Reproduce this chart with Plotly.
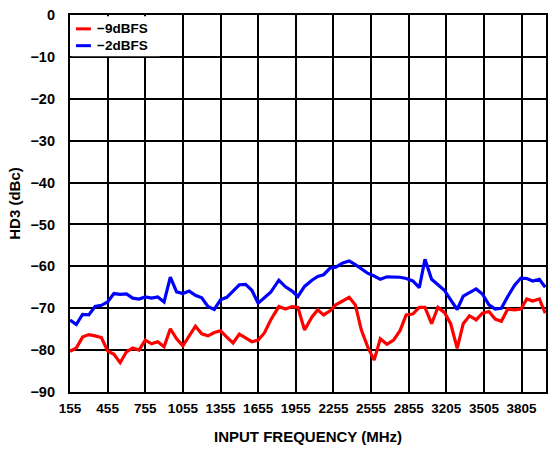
import plotly.graph_objects as go

# ---- data ----
freq_mhz = [155, 205, 255, 305, 355, 405, 455, 505, 555, 605, 655, 705, 755, 805, 855, 905,
            955, 1005, 1055, 1105, 1155, 1205, 1255, 1305, 1355, 1405, 1455, 1505, 1555, 1605,
            1655, 1705, 1755, 1820, 1873, 1926, 1972, 2025, 2084, 2130, 2177, 2229, 2274, 2330,
            2381, 2430, 2478, 2531, 2580, 2629, 2682, 2735, 2787, 2835, 2888, 2940, 2985, 3038,
            3088, 3140, 3190, 3242, 3290, 3340, 3393, 3443, 3495, 3545, 3594, 3645, 3700, 3750,
            3797, 3844, 3897, 3944]

hd3_m9dbfs = [-80.3, -79.5, -76.9, -76.3, -76.6, -77.0, -80.2, -81.0, -83.0, -80.4, -79.5, -80.0,
              -77.6, -78.5, -78.0, -79.2, -74.9, -77.3, -79.0, -76.6, -74.3, -76.1, -76.6, -75.8,
              -75.4, -76.9, -78.3, -76.2, -77.1, -78.0, -77.6, -75.9, -72.8, -69.6, -70.2, -69.6,
              -69.8, -75.2, -72.1, -70.4, -71.6, -70.6, -69.2, -68.2, -67.4, -69.2, -75.2, -79.4,
              -82.4, -77.3, -78.6, -77.6, -75.3, -71.6, -71.4, -69.8, -69.8, -73.7, -69.8, -71.0,
              -73.7, -79.6, -73.7, -71.8, -72.8, -71.2, -70.8, -72.6, -73.1, -70.2, -70.4, -70.2,
              -67.8, -68.3, -67.8, -71.2]

hd3_m2dbfs = [-72.8, -73.9, -71.5, -71.6, -69.6, -69.3, -68.5, -66.5, -66.7, -66.6, -67.6, -67.8,
              -67.3, -67.6, -67.3, -68.5, -62.6, -66.1, -66.5, -65.9, -66.9, -67.5, -69.6, -70.3,
              -68.0, -67.4, -65.9, -64.4, -64.3, -65.7, -68.8, -67.5, -66.2, -63.3, -64.9, -65.9,
              -67.2, -64.8, -63.3, -62.4, -62.0, -60.4, -60.2, -59.2, -58.7, -59.6, -60.6, -61.7,
              -62.3, -63.1, -62.5, -62.5, -62.6, -62.9, -63.5, -65.1, -58.3, -63.1, -64.5, -65.7,
              -68.0, -70.3, -67.1, -66.3, -65.4, -66.6, -69.2, -70.2, -70.0, -67.2, -64.5, -62.8,
              -62.9, -63.5, -63.1, -65.0]

series_names = ["\u22129dBFS", "\u22122dBFS"]
series_colors = ["#ff0000", "#0000ff"]

x_tickvals = [155 + 300 * k for k in range(13)]
x_ticktext = ["155", "455", "755", "1055", "1355", "1655", "1955", "2255", "2555", "2855",
              "3205", "3505", "3805"]
y_tickvals = [0, -10, -20, -30, -40, -50, -60, -70, -80, -90]

FONT = "Liberation Sans, Arial, sans-serif"

fig = go.Figure()
for name, ys, col in zip(series_names, [hd3_m9dbfs, hd3_m2dbfs], series_colors):
    fig.add_trace(go.Scatter(x=freq_mhz, y=ys, mode="lines", name=name,
                             line=dict(color=col, width=3.2), showlegend=False))

fig.update_layout(
    width=554, height=449,
    margin=dict(l=70, r=6, t=15, b=53),
    paper_bgcolor="white", plot_bgcolor="white",
    font=dict(family=FONT, size=13, color="black", weight="bold"),
)

fig.update_xaxes(
    range=[155, 3950], tickvals=x_tickvals, ticktext=x_ticktext,
    showgrid=True, gridcolor="black", gridwidth=1.6,
    showline=True, linecolor="black", linewidth=2.2, mirror=True,
    ticks="", ticklabelstandoff=3,
    tickfont=dict(family=FONT, size=13.5, weight="bold"),
    title=dict(text="INPUT FREQUENCY (MHz)", standoff=16,
               font=dict(family=FONT, size=15, weight="bold")),
    zeroline=False,
)
fig.update_yaxes(
    range=[-90, 0], tickvals=y_tickvals,
    showgrid=True, gridcolor="black", gridwidth=1.6,
    showline=True, linecolor="black", linewidth=2.2, mirror=True,
    ticks="", ticklabelstandoff=10,
    tickfont=dict(family=FONT, size=14.5, weight="bold"),
    title=dict(text="HD3 (dBc)", standoff=6,
               font=dict(family=FONT, size=15, weight="bold")),
    zeroline=False,
)

# legend box (drawn in paper coordinates of the plot area)
pw, ph = 478.0, 381.0
def px(xp):
    return (xp - 70) / pw
def py(yp):
    return 1 - (yp - 15) / ph

fig.add_shape(type="rect", xref="paper", yref="paper",
              x0=px(71.3), x1=px(160), y0=py(56.6), y1=py(16.3),
              fillcolor="white", line=dict(width=0), layer="above")
for i, (name, col) in enumerate(zip(series_names, series_colors)):
    yy = 29 + 17 * i
    fig.add_shape(type="line", xref="paper", yref="paper",
                  x0=px(76), x1=px(91), y0=py(yy), y1=py(yy),
                  line=dict(color=col, width=3), layer="above")
    fig.add_annotation(xref="paper", yref="paper", x=px(95), y=py(yy),
                       xanchor="left", yanchor="middle", showarrow=False,
                       text=name, font=dict(family=FONT, size=13.5, weight="bold", color="black"))

fig.write_html("out.html", config={"displayModeBar": False},
               post_script="document.body.style.margin='0';document.body.style.padding='0';")
